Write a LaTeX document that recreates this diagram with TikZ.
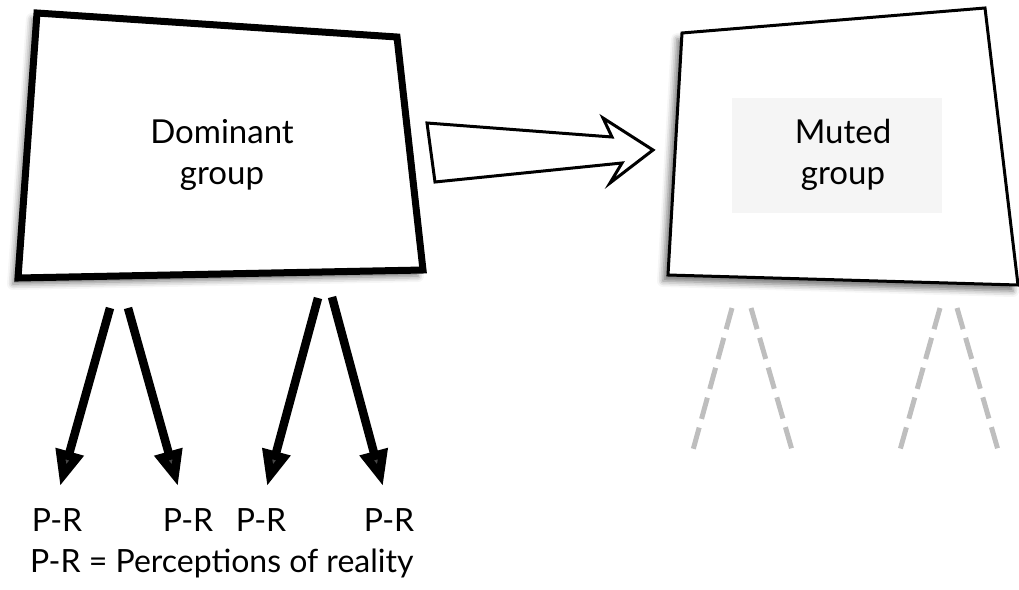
\documentclass[tikz,border=0pt]{standalone}
\usepackage{fontspec}
\setmainfont{Lato}
\usetikzlibrary{arrows.meta, positioning, shadows.blur}

\begin{document}
\begin{tikzpicture}[x=1pt,y=-1pt,
  groupbox/.style={fill=white,line join=miter,
    blur shadow={shadow xshift=-5pt,shadow yshift=-6pt,shadow blur radius=6pt,shadow opacity=55}},
  grouplabel/.style={font=\fontsize{33}{41}\selectfont,align=center},
  prlabel/.style={font=\fontsize{32}{36}\selectfont,inner sep=0pt},
  prarrow/.style={line width=8.5pt,-{Triangle[length=36pt 0 0,width=27pt 0 0]}},
  mutedline/.style={line width=5pt,draw={rgb,255:red,190;green,190;blue,190},dash pattern=on 22pt off 9pt}]
  \useasboundingbox (0,0) rectangle (1019,589);

  % dominant group
  \draw[groupbox,line width=7pt] (37,13) -- (397,37) -- (423,270) -- (18,278) -- cycle;
  \node[grouplabel] (dom) at (222,155) {Dominant\\group};

  % muted group
  \draw[groupbox,line width=3pt] (682,33) -- (985,8) -- (1018,285) -- (668,275) -- cycle;
  \fill[black!4] (732,98) rectangle (942,213);
  \node[grouplabel] (mut) at (843,155) {Muted\\group};

  % big hollow arrow
  \draw[line width=3pt,line join=miter,fill=white]
    (427,123) -- (612,137) -- (603,118) -- (653,150) -- (610,183) -- (622,163) -- (435,182) -- cycle;

  % perceptions of reality
  \node[prlabel] (pr1) at (57,520) {P-R};
  \node[prlabel] (pr2) at (188,520) {P-R};
  \node[prlabel] (pr3) at (261,520) {P-R};
  \node[prlabel] (pr4) at (389,520) {P-R};
  \node[prlabel,anchor=west] (key) at (30,563) {P-R = Perceptions of reality};

  \coordinate (d1) at (110,308);
  \coordinate (d2) at (128,308);
  \coordinate (d3) at (318,298);
  \coordinate (d4) at (332,297);
  \draw[prarrow] (d1) -- ([xshift=3pt,yshift=22pt]pr1.north);
  \draw[prarrow] (d2) -- ([xshift=-10pt,yshift=22pt]pr2.north);
  \draw[prarrow] (d3) -- ([xshift=6pt,yshift=22pt]pr3.north);
  \draw[prarrow] (d4) -- ([xshift=-6pt,yshift=22pt]pr4.north);

  % muted, unheard perceptions
  \coordinate (m1) at (732,308);
  \coordinate (m2) at (751,308);
  \coordinate (m3) at (940,308);
  \coordinate (m4) at (957,308);
  \coordinate (n1) at (693,450);
  \coordinate (n2) at (792,450);
  \coordinate (n3) at (900,450);
  \coordinate (n4) at (998,450);
  \foreach \i in {1,...,4}
    \draw[mutedline] (m\i) -- (n\i);
\end{tikzpicture}
\end{document}
